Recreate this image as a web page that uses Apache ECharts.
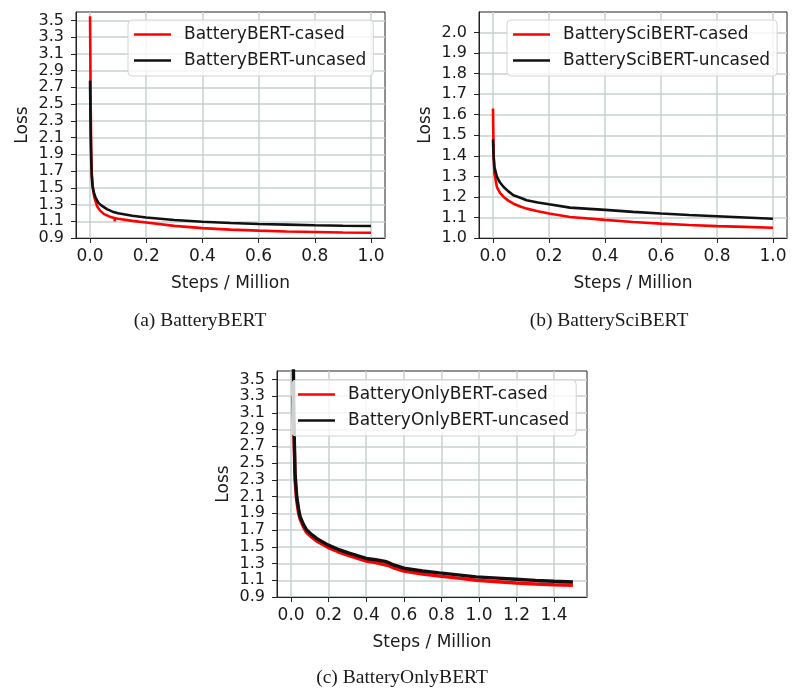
<!DOCTYPE html>
<html>
<head>
<meta charset="utf-8">
<script src="https://cdn.jsdelivr.net/npm/echarts@6/dist/echarts.min.js"></script>
<style>
html,body{margin:0;padding:0;background:#fff;}
#chart{width:800px;height:689px;}
</style>
</head>
<body>
<div id="chart"></div>
<script>
// ---- data ----
var aCasedSteps   = [0, 0.002, 0.004, 0.006, 0.01, 0.015, 0.025, 0.035, 0.05, 0.07, 0.087, 0.088, 0.089, 0.1, 0.15, 0.2, 0.3, 0.4, 0.5, 0.6, 0.7, 0.8, 0.9, 1.0];
var aCasedLoss    = [3.55, 2.6, 1.95, 1.68, 1.5, 1.39, 1.28, 1.23, 1.185, 1.155, 1.138, 1.10, 1.136, 1.13, 1.105, 1.085, 1.045, 1.018, 1.0, 0.988, 0.978, 0.972, 0.966, 0.962];
var aUncasedSteps = [0, 0.002, 0.004, 0.006, 0.008, 0.012, 0.02, 0.03, 0.04, 0.06, 0.08, 0.1, 0.15, 0.2, 0.3, 0.4, 0.5, 0.6, 0.7, 0.8, 0.9, 1.0];
var aUncasedLoss  = [2.78, 2.2, 1.85, 1.65, 1.54, 1.46, 1.38, 1.32, 1.29, 1.245, 1.215, 1.195, 1.165, 1.145, 1.115, 1.095, 1.08, 1.068, 1.06, 1.052, 1.047, 1.043];

var bSteps        = [0, 0.002, 0.005, 0.014, 0.025, 0.038, 0.055, 0.073, 0.1, 0.12, 0.16, 0.2, 0.275, 0.4, 0.5, 0.6, 0.7, 0.8, 0.9, 1.0];
var bCasedLoss    = [1.63, 1.42, 1.313, 1.248, 1.22, 1.2, 1.182, 1.167, 1.152, 1.143, 1.13, 1.119, 1.102, 1.088, 1.078, 1.07, 1.063, 1.058, 1.054, 1.05];
var bUncasedLoss  = [1.48, 1.4, 1.346, 1.297, 1.27, 1.248, 1.227, 1.208, 1.195, 1.184, 1.173, 1.164, 1.148, 1.137, 1.127, 1.119, 1.112, 1.106, 1.1, 1.094];

var cCasedSteps   = [0.008, 0.015, 0.021, 0.03, 0.04, 0.048, 0.065, 0.083, 0.11, 0.136, 0.198, 0.25, 0.313, 0.4, 0.45, 0.5, 0.52, 0.55, 0.6, 0.7, 0.79, 0.9, 0.985, 1.1, 1.197, 1.3, 1.4, 1.5];
var cCasedLoss    = [3.3, 2.9, 2.3, 2.05, 1.9, 1.83, 1.74, 1.67, 1.615, 1.57, 1.49, 1.44, 1.39, 1.33, 1.31, 1.285, 1.275, 1.245, 1.21, 1.175, 1.15, 1.122, 1.1, 1.083, 1.068, 1.055, 1.046, 1.04];
var cUncasedSteps = [0.01, 0.015, 0.021, 0.03, 0.04, 0.048, 0.065, 0.083, 0.11, 0.136, 0.198, 0.25, 0.313, 0.4, 0.45, 0.5, 0.52, 0.55, 0.6, 0.7, 0.79, 0.9, 0.985, 1.1, 1.197, 1.3, 1.4, 1.5];
var cUncasedLoss  = [4.2, 3.0, 2.38, 2.1, 1.95, 1.86, 1.77, 1.70, 1.645, 1.60, 1.52, 1.47, 1.42, 1.36, 1.345, 1.325, 1.31, 1.28, 1.244, 1.21, 1.188, 1.162, 1.14, 1.125, 1.112, 1.098, 1.088, 1.08];

var xTicksA = [0, 0.2, 0.4, 0.6, 0.8, 1.0];
var xTicksC = [0, 0.2, 0.4, 0.6, 0.8, 1.0, 1.2, 1.4];
var yTicksA = [0.9, 1.1, 1.3, 1.5, 1.7, 1.9, 2.1, 2.3, 2.5, 2.7, 2.9, 3.1, 3.3, 3.5];
var yTicksB = [1.0, 1.1, 1.2, 1.3, 1.4, 1.5, 1.6, 1.7, 1.8, 1.9, 2.0];

var names = ['BatteryBERT-cased', 'BatteryBERT-uncased', 'BatterySciBERT-cased', 'BatterySciBERT-uncased', 'BatteryOnlyBERT-cased', 'BatteryOnlyBERT-uncased'];
var captions = ['(a) BatteryBERT', '(b) BatterySciBERT', '(c) BatteryOnlyBERT'];

function zip(xs, ys) { return xs.map(function (x, i) { return [x, ys[i]]; }); }

var FONT = 'DejaVu Sans';
var FS = 17;
var gridColor = '#c6d0d0';

function xAxis(idx, min, max, ticks) {
  return {
    type: 'value', gridIndex: idx, min: min, max: max,
    name: 'Steps / Million', nameLocation: 'middle', nameGap: 37,
    nameTextStyle: { fontFamily: FONT, fontSize: FS, color: '#1a1a1a' },
    axisLine: { show: true, onZero: false, lineStyle: { color: '#222', width: 1 } },
    axisTick: { show: true, inside: false, length: 5, customValues: ticks, lineStyle: { color: '#222', width: 1 } },
    axisLabel: { customValues: ticks, margin: 10, fontFamily: FONT, fontSize: FS, color: '#1a1a1a',
      formatter: function (v) { return (+v).toFixed(1); } },
    splitLine: { show: true, lineStyle: { color: gridColor, width: 1.5 } }
  };
}
function yAxis(idx, min, max, ticks) {
  return {
    type: 'value', gridIndex: idx, min: min, max: max,
    name: 'Loss', nameLocation: 'middle', nameGap: 45, nameRotate: 90,
    nameTextStyle: { fontFamily: FONT, fontSize: FS, color: '#1a1a1a' },
    axisLine: { show: true, onZero: false, lineStyle: { color: '#222', width: 1 } },
    axisTick: { show: true, inside: false, length: 5, customValues: ticks, lineStyle: { color: '#222', width: 1 } },
    axisLabel: { customValues: ticks, margin: 12, fontFamily: FONT, fontSize: 16, color: '#1a1a1a',
      formatter: function (v) { return (+v).toFixed(1); } },
    splitLine: { show: true, lineStyle: { color: gridColor, width: 1.5 } }
  };
}
function legend(left, top, data) {
  return {
    data: data, orient: 'vertical', left: left, top: top,
    icon: 'rect', itemWidth: 37, itemHeight: 2.6, itemGap: 7,
    padding: [5, 7, 6, 6],
    backgroundColor: 'rgba(255,255,255,0.8)', borderColor: '#d4d4d4', borderWidth: 1, borderRadius: 4,
    textStyle: { fontFamily: FONT, fontSize: FS, color: '#1a1a1a', lineHeight: 19, padding: [0, 0, 0, 8] },
    selectedMode: false
  };
}
function line(name, idx, data, color, width) {
  return {
    type: 'line', name: name, xAxisIndex: idx, yAxisIndex: idx, data: data,
    showSymbol: false, symbol: 'none', smooth: false, animation: false,
    lineStyle: { color: color, width: width }, itemStyle: { color: color }
  };
}

var chart = echarts.init(document.getElementById('chart'), null, { renderer: 'canvas' });
chart.setOption({
  backgroundColor: '#fff',
  animation: false,
  grid: [
    { left: 76, top: 12, width: 309, height: 226, show: true, borderColor: '#222', borderWidth: 1, backgroundColor: 'transparent' },
    { left: 479, top: 12, width: 308, height: 226, show: true, borderColor: '#222', borderWidth: 1, backgroundColor: 'transparent' },
    { left: 277, top: 371, width: 310, height: 226, show: true, borderColor: '#222', borderWidth: 1, backgroundColor: 'transparent' }
  ],
  xAxis: [
    xAxis(0, -0.05, 1.05, xTicksA),
    xAxis(1, -0.05, 1.05, xTicksA),
    xAxis(2, -0.075, 1.575, xTicksC)
  ],
  yAxis: [
    yAxis(0, 0.9, 3.6, yTicksA),
    yAxis(1, 1.0, 2.1, yTicksB),
    yAxis(2, 0.9, 3.6, yTicksA)
  ],
  legend: [
    legend(128, 20, [names[0], names[1]]),
    legend(507, 20, [names[2], names[3]]),
    legend(292, 380, [names[4], names[5]])
  ],
  series: [
    line(names[0], 0, zip(aCasedSteps, aCasedLoss), '#ff0000', 2.6),
    line(names[1], 0, zip(aUncasedSteps, aUncasedLoss), '#111111', 2.6),
    line(names[2], 1, zip(bSteps, bCasedLoss), '#ff0000', 2.6),
    line(names[3], 1, zip(bSteps, bUncasedLoss), '#111111', 2.6),
    line(names[4], 2, zip(cCasedSteps, cCasedLoss), '#ff0000', 3.4),
    line(names[5], 2, zip(cUncasedSteps, cUncasedLoss), '#111111', 3.4)
  ],
  graphic: [
    { type: 'text', x: 200, y: 321, style: { text: captions[0], font: '19.5px "Liberation Serif"', fill: '#1a1a1a', align: 'center', verticalAlign: 'middle' } },
    { type: 'text', x: 609, y: 321, style: { text: captions[1], font: '19.5px "Liberation Serif"', fill: '#1a1a1a', align: 'center', verticalAlign: 'middle' } },
    { type: 'text', x: 402, y: 678, style: { text: captions[2], font: '19.5px "Liberation Serif"', fill: '#1a1a1a', align: 'center', verticalAlign: 'middle' } }
  ]
});
</script>
</body>
</html>
